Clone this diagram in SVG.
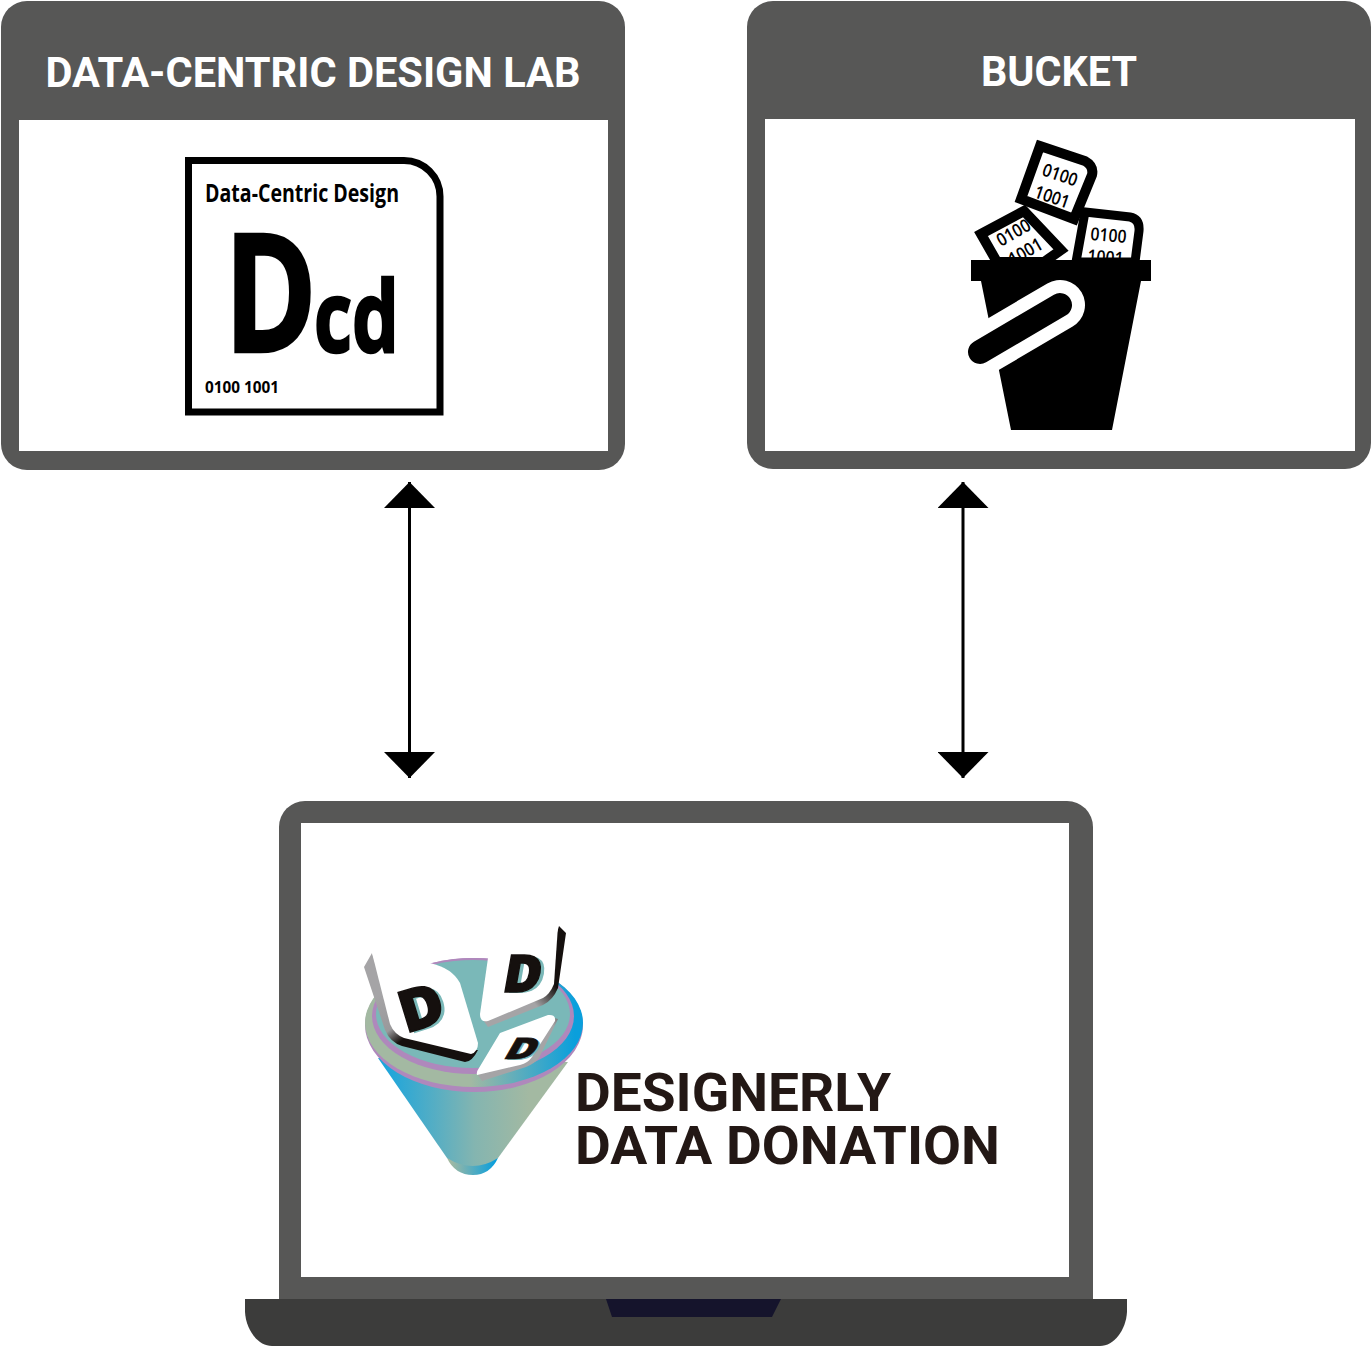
<svg xmlns="http://www.w3.org/2000/svg" width="1372" height="1347" viewBox="0 0 1372 1347">
<style>
.title{font-family:Roboto,"Liberation Sans",sans-serif;font-weight:700;font-size:42px;fill:#fff;text-anchor:middle}
.logo{font-family:"Open Sans","Noto Sans",sans-serif;font-weight:700;fill:#000}
.heavy{stroke:#000;stroke-width:2.500}
.bin{font-family:"Open Sans","Noto Sans",sans-serif;font-weight:600;font-size:18px;fill:#000}
.brand{font-family:Roboto,"Liberation Sans",sans-serif;font-weight:700;font-size:54px;fill:#231815}
.conn{stroke:#000;stroke-width:3;fill:none;marker-start:url(#ah);marker-end:url(#ah)}
.ddd{font-family:"Open Sans","Liberation Sans",sans-serif;font-weight:800;fill:#15100e;text-anchor:middle}
.sh{fill:#7ab8b8}
</style>
<defs>
<marker id="ah" viewBox="0 0 26 51" refX="26" refY="25.500" markerWidth="26" markerHeight="51" markerUnits="userSpaceOnUse" orient="auto-start-reverse"><path d="M0 0L26 25.500L0 51Z" fill="#000"/></marker>
<linearGradient id="cone" gradientUnits="userSpaceOnUse" x1="385" x2="565" y1="0" y2="0"><stop offset="0" stop-color="#1ca5dc"/><stop offset=".5" stop-color="#84b5b0"/><stop offset=".8" stop-color="#a3b9a2"/><stop offset="1" stop-color="#a3b9a2"/></linearGradient>
<linearGradient id="rim" gradientUnits="userSpaceOnUse" x1="470" x2="575" y1="0" y2="0"><stop offset="0" stop-color="#a3b9a2"/><stop offset="1" stop-color="#0a9fdc"/></linearGradient>
<linearGradient id="cap" gradientUnits="userSpaceOnUse" x1="450" x2="495" y1="0" y2="0"><stop offset="0" stop-color="#a3b9a2"/><stop offset="1" stop-color="#0a9fdc"/></linearGradient>
<linearGradient id="grey1" gradientUnits="userSpaceOnUse" x1="372" y1="1000" x2="410" y2="1050"><stop offset="0" stop-color="#a5a4a6"/><stop offset=".55" stop-color="#9a999b"/><stop offset=".8" stop-color="#15100e"/><stop offset="1" stop-color="#15100e"/></linearGradient>
<linearGradient id="grey2" gradientUnits="userSpaceOnUse" x1="520" y1="1015" x2="555" y2="985"><stop offset="0" stop-color="#a5a4a6"/><stop offset=".4" stop-color="#a5a4a6"/><stop offset="1" stop-color="#15100e"/></linearGradient>
</defs>

<g id="dcd-lab">
<rect x="1" y="1" width="624" height="469" rx="26" fill="#575756"/>
<rect x="19" y="120" width="589" height="331" fill="#fff"/>
<text class="title" x="313" y="87" textLength="535" lengthAdjust="spacingAndGlyphs">DATA-CENTRIC DESIGN LAB</text>
<path d="M188.500 160.500H404a36 36 0 0 1 36 36V412H188.500Z" fill="#fff" stroke="#000" stroke-width="7"/>
<text class="logo" x="205" y="202" font-size="25" textLength="194" lengthAdjust="spacingAndGlyphs">Data-Centric Design</text>
<text class="logo heavy" x="224" y="352" font-size="165" textLength="93" lengthAdjust="spacingAndGlyphs">D</text>
<text class="logo heavy" x="314" y="352" font-size="99" textLength="85" lengthAdjust="spacingAndGlyphs">cd</text>
<text class="logo" x="205" y="393" font-size="16.500" textLength="74" lengthAdjust="spacingAndGlyphs">0100 1001</text>
</g>

<g id="bucket">
<rect x="747" y="1" width="624" height="468" rx="26" fill="#575756"/>
<rect x="765" y="119" width="590" height="332" fill="#fff"/>
<text class="title" x="1059" y="86" textLength="156" lengthAdjust="spacingAndGlyphs">BUCKET</text>
<g>
<path d="M1076 262L1085 212L1130 217Q1140 219 1139 231L1135 262Z" fill="#fff" stroke="#000" stroke-width="9"/>
<text class="bin" transform="translate(1090 240) rotate(5)" textLength="36" lengthAdjust="spacingAndGlyphs">0100</text>
<text class="bin" transform="translate(1087 262) rotate(5)" textLength="36" lengthAdjust="spacingAndGlyphs">1001</text>
<path d="M981 234L1024 211L1061 250L1044 262H997Z" fill="#fff" stroke="#000" stroke-width="10"/>
<text class="bin" transform="translate(1001 247) rotate(-30)" textLength="36" lengthAdjust="spacingAndGlyphs">0100</text>
<text class="bin" transform="translate(1013 266) rotate(-30)" textLength="36" lengthAdjust="spacingAndGlyphs">1001</text>
<path d="M1040 146L1085 161Q1094 166 1092 175L1074 219L1021 199Z" fill="#fff" stroke="#000" stroke-width="10"/>
<text class="bin" transform="translate(1041 175) rotate(19)" textLength="36" lengthAdjust="spacingAndGlyphs">0100</text>
<text class="bin" transform="translate(1033 197) rotate(19)" textLength="36" lengthAdjust="spacingAndGlyphs">1001</text>
<path d="M971 260H1151V281H1141L1112 430H1011L981 281H971Z" fill="#000"/>
<path d="M980 352L1060 305" stroke="#fff" stroke-width="50" stroke-linecap="round" fill="none"/>
<path d="M980 352L1060 305" stroke="#000" stroke-width="24" stroke-linecap="round" fill="none"/>
</g>
</g>

<g id="connectors">
<line class="conn" x1="409.500" y1="482" x2="409.500" y2="778"/>
<line class="conn" x1="963" y1="482" x2="963" y2="778"/>
</g>

<g id="laptop">
<path d="M279 1299V827a26 26 0 0 1 26-26H1067a26 26 0 0 1 26 26V1299Z" fill="#575756"/>
<rect x="301" y="823" width="768" height="454" fill="#fff"/>
<path d="M245 1299H1127V1312C1126 1330 1114 1346 1100 1346H272C258 1346 246 1330 245 1312Z" fill="#3c3c3b"/>
<path d="M606 1299H781L772 1317H612Z" fill="#15142c"/>
<g id="funnel">
<path d="M378 1058L447 1158Q474 1184 498 1158L568 1062Z" fill="url(#cone)"/>
<path d="M447 1158Q473 1174 498 1158Q490 1175 473 1175Q455 1175 447 1158Z" fill="url(#cap)"/>
<ellipse cx="474" cy="1025" rx="109" ry="67" fill="#af88bc"/>
<ellipse cx="474" cy="1023" rx="109" ry="64" fill="url(#rim)"/>
<ellipse cx="473" cy="1016" rx="101" ry="58" fill="#af88bc"/>
<ellipse cx="473" cy="1014" rx="97" ry="54" fill="#7ab8b8"/>
<path d="M372 953L364 967L385 1030Q390 1042 402 1046L465 1062Q472 1062 478 1050L470 1050L400 1034Z" fill="url(#grey1)"/>
<path d="M372 953L430 963Q452 968 460 983L478 1043Q478 1052 471 1054L404 1038Q394 1034 390 1024Z" fill="#fff"/>
<text class="ddd sh" transform="translate(431 1028) rotate(-17) scale(1.050 1)" font-size="58">D</text>
<text class="ddd" stroke="#15100e" stroke-width="1.500" transform="translate(427 1027) rotate(-17) scale(1.050 1)" font-size="58">D</text>
<path d="M559 926L566 933L558 988Q553 1000 543 1005L488 1027L483 1020L540 990Z" fill="url(#grey2)"/>
<path d="M488 958L558 926L554 984Q550 994 543 998L488 1021Q480 1023 480 1014Z" fill="#fff"/>
<text class="ddd sh" transform="translate(524 993) skewX(-10)" font-size="52">D</text>
<text class="ddd" stroke="#15100e" stroke-width="1.500" transform="translate(520 992) skewX(-10)" font-size="52">D</text>
<path d="M550 1017L558 1019L539 1058Q534 1064 526 1067L482 1081L478 1075L530 1055Z" fill="url(#grey2)"/>
<path d="M500 1033L548 1015Q556 1014 555 1021L532 1057Q528 1063 520 1065L477 1075Q476 1072 479 1068Z" fill="#fff"/>
<text class="ddd sh" transform="translate(519 1060) skewX(-30) scale(1.150 .82)" font-size="36">D</text>
<text class="ddd" stroke="#15100e" stroke-width=".8" transform="translate(517 1059) skewX(-30) scale(1.150 .82)" font-size="36">D</text>
</g>
<text class="brand" x="575" y="1111" textLength="316" lengthAdjust="spacingAndGlyphs">DESIGNERLY</text>
<text class="brand" x="575" y="1164" textLength="425" lengthAdjust="spacingAndGlyphs">DATA DONATION</text>
</g>
</svg>
